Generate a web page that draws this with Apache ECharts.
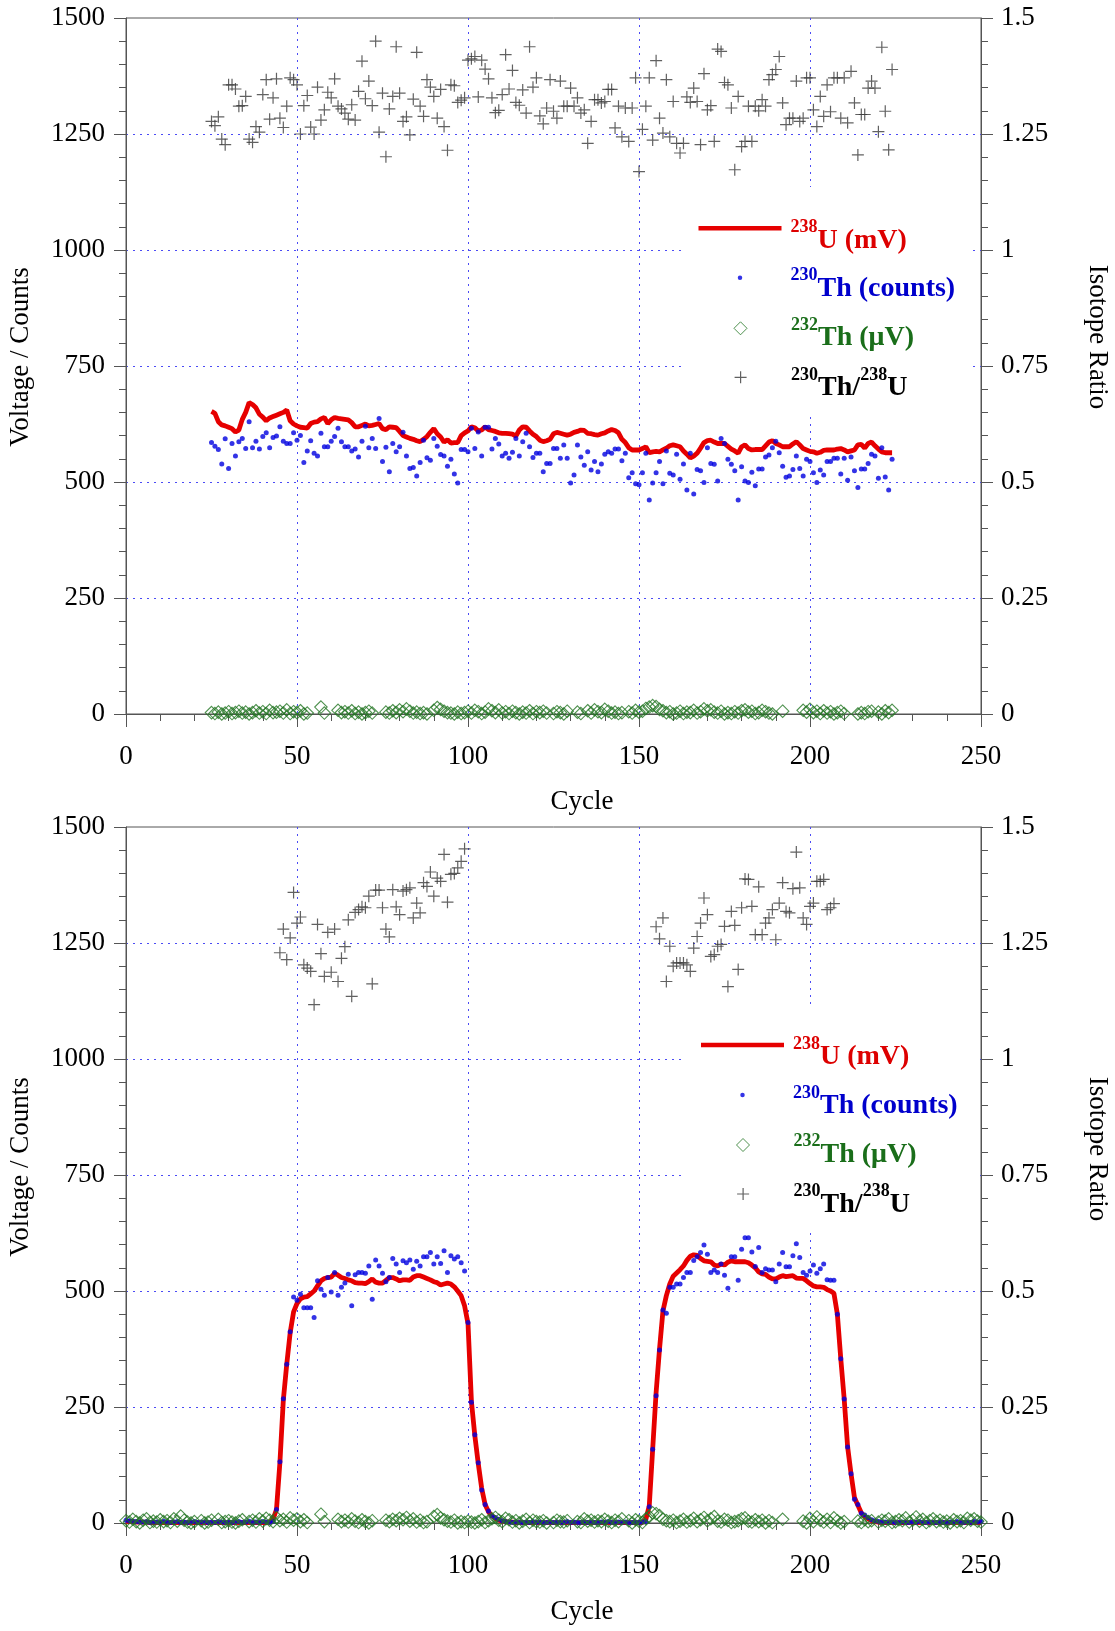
<!DOCTYPE html>
<html><head><meta charset="utf-8">
<script src="https://cdn.jsdelivr.net/npm/echarts@6/dist/echarts.min.js"></script>
<style>html,body{margin:0;padding:0;background:#fff}#c{width:1115px;height:1631px}</style>
</head><body><div id="c"></div>
<script>
// ---------------- DATA ----------------
const xTicks = [0, 50, 100, 150, 200, 250];
const leftTicks = [0, 250, 500, 750, 1000, 1250, 1500];
const rightTicks = [0, 0.25, 0.5, 0.75, 1, 1.25, 1.5];

// Top panel: cycles 25..224
const topStart = 25;
const topU = [652,648,630,623,621,618,615,608,612,635,650,671,667,660,646,640,632,638,641,644,
647,650,655,632,625,621,618,617,616,626,629,630,636,639,626,634,639,637,636,635,
634,628,619,619,622,625,621,622,624,626,615,613,619,618,617,609,600,597,594,592,
589,587,592,598,607,615,604,597,586,591,584,585,585,600,606,610,619,617,610,612,
619,613,611,609,606,605,605,604,603,599,612,619,618,610,603,598,590,587,589,592,
604,607,605,603,601,603,607,609,612,611,605,604,602,601,604,606,610,613,611,606,
592,585,574,569,569,569,572,576,563,565,566,565,569,573,578,580,578,576,567,560,
552,556,562,573,585,589,590,586,583,583,583,577,571,567,562,576,580,572,569,570,
570,570,578,586,589,583,580,576,576,576,582,587,580,572,569,566,565,562,564,568,
569,569,569,571,572,569,565,567,569,580,581,573,583,586,578,571,565,563,563,563];
const topTh230 = [585,577,570,539,593,529,583,556,587,594,572,630,574,588,571,598,606,574,596,599,
619,588,583,583,606,590,600,542,567,589,562,556,605,576,576,588,598,616,587,576,
576,567,571,554,588,620,574,594,572,637,544,575,522,583,565,576,607,556,529,531,
513,542,590,552,547,594,577,559,556,534,549,517,498,570,570,565,616,572,608,556,
618,618,571,594,582,556,562,551,564,594,556,587,605,576,553,562,562,522,540,540,572,
572,551,580,551,498,515,580,554,536,565,526,544,522,539,560,565,562,571,571,546,
562,509,520,496,494,520,562,461,498,520,544,496,567,519,515,560,506,539,483,562,
474,527,524,499,574,540,538,502,594,583,549,538,524,461,533,502,499,521,492,528,
528,554,558,574,588,563,534,510,513,527,556,529,513,549,544,520,499,526,515,544,
544,551,551,517,551,504,554,524,488,528,528,540,560,556,508,574,511,483,549];
// null = no 232Th reading shown at that cycle
const topTh232 = [3,1,4,0,2,5,1,3,6,2,4,0,3,7,2,5,1,8,3,4,6,2,9,1,5,3,7,0,2,null,
null,null,15,2,null,null,null,8,3,5,2,7,1,4,0,3,6,2,null,null,null,4,2,7,3,9,5,11,6,2,
4,1,3,0,null,8,14,10,6,3,2,0,4,1,3,6,2,8,5,1,4,11,7,3,9,2,5,1,6,3,
0,4,2,7,1,5,3,6,2,null,1,5,3,0,6,null,null,4,1,null,7,2,9,5,3,10,6,2,4,1,
3,null,5,2,8,4,6,12,15,18,16,10,7,3,5,0,2,6,1,4,3,8,2,5,11,7,9,4,2,6,
0,3,1,5,2,7,9,4,6,1,3,8,5,2,0,null,null,6,null,null,null,null,null,8,4,10,3,6,1,7,
2,5,0,3,6,1,null,null,null,0,3,1,5,6,null,4,0,7,3,8];
const topRatio = [1.277,1.268,1.287,1.239,1.227,1.356,1.356,1.347,1.310,1.311,
1.331,1.239,1.232,1.266,1.254,1.335,1.367,1.282,1.328,1.369,
1.284,1.264,1.310,1.371,1.367,1.356,1.250,1.311,1.333,1.265,
1.250,1.351,1.280,1.302,1.340,1.328,1.369,1.310,1.304,1.295,
1.282,1.313,1.280,1.342,1.407,1.326,1.364,1.311,1.450,1.254,
1.338,1.201,1.304,1.331,1.438,1.338,1.277,1.287,1.248,1.325,
1.426,1.310,1.288,1.367,1.351,1.331,1.284,1.346,1.266,1.215,
1.356,1.354,1.318,1.323,1.328,1.409,1.412,1.417,1.330,1.409,1.390,1.369,1.328,1.296,
1.301,1.335,1.421,1.347,1.387,1.318,1.312,1.345,1.295,1.438,1.351,1.371,1.289,
1.272,1.306,1.367,1.299,
1.284,1.364,1.310,1.310,1.349,1.310,1.328,1.295,
1.302,1.230,1.277,1.324,1.324,1.317,1.320,1.346,1.346,1.263,
1.310,1.244,1.306,1.234,1.306,1.371,1.169,1.260,1.310,1.371,
1.237,1.408,1.284,1.252,1.367,1.244,1.320,1.230,1.209,1.230,1.330,
1.318,1.349,1.320,1.227,1.380,1.302,1.311,1.234,1.433,1.428,
1.361,1.356,1.306,1.173,1.331,1.223,1.234,1.310,1.234,1.310,1.300,
1.324,1.310,1.367,1.378,1.389,1.417,1.317,1.270,1.284,1.284,
1.364,1.277,1.284,1.371,1.371,1.302,1.266,1.331,1.288,1.356,1.298,
1.371,1.371,1.284,1.371,1.274,1.385,1.317,1.205,1.292,1.292,
1.349,1.364,1.349,1.255,1.437,1.299,1.216,1.389];

// Bottom panel: cycles 0..250
const botStart = 0;
const botU = [4,3,3,2,2,2,2,1,1,1, 1,1,1,1,1,1,1,1,1,1, 1,1,1,1,1,1,1,1,1,1, 1,1,1,1,1,1,1,1,1,1, 1,1,2,
8,29,130,265,342,410,455,473,483,487,488,494,500,511,522,527,529,530,538,534,529,527,524,522,518,517,517,516,
520,526,519,517,517,523,529,529,526,522,524,524,523,530,533,533,530,527,524,520,518,513,515,517,515,509,500,490,
468,430,262,188,128,75,40,24,15,10,6,4,3,2,
2,1,1,1,1,1,1,1,1,1, 1,1,1,1,1,1,1,1,1,1, 1,1,1,1,1,1,1,1,1,1, 1,1,1,1,1,1,1,1,1,
8,37,159,281,375,457,490,515,532,539,546,554,566,575,578,577,570,565,564,563,556,554,558,556,562,565,563,563,563,
563,561,556,550,541,537,536,530,526,526,530,533,531,532,533,528,527,527,522,516,511,509,509,508,503,500,495,450,
354,267,164,106,55,38,22,14,9,5,3,2,
1,1,1,1,1,1,1,1,1,1, 1,1,1,1,1,1,1,1,1,1, 1,1,1,1,1,1,1,1,1,1];
const botTh230 = [6,5,4,3,2,2,3,1,2,2, 1,4,2,1,2,3,1,2,1,2, 3,1,2,2,1,2,1,3,2,1, 2,1,2,3,1,2,4,1,2,1, 3,2,1,4,
29,132,268,342,412,487,480,493,464,464,464,443,522,504,491,529,498,540,491,508,517,536,468,535,540,540,538,554,
482,567,554,538,520,529,570,558,540,565,561,567,547,564,554,574,574,583,558,574,559,587,540,576,569,574,561,543,
432,260,190,130,71,40,26,15,12,8,5,
3,2,1,2,1,1,2,1,3,1, 2,1,1,2,1,2,1,1,3,1, 2,1,1,2,1,2,1,1,2,1, 3,1,1,2,1,2,1,1,2,1, 2,3,
35,159,274,373,459,452,508,508,515,515,529,540,540,566,574,583,599,579,540,545,540,558,534,506,574,574,523,590,
615,615,584,553,594,540,548,545,545,520,558,583,552,552,576,602,572,540,534,543,556,538,548,558,524,523,523,450,
354,267,164,106,51,40,21,17,12,7,5,
3,2,2,1,2,1,1,2,1,1, 2,1,3,1,1,2,1,1,2,1, 1,2,1,3,1,1,2,1,4,2, 3];
const botTh232 = [5,2,8,3,0,6,9,1,4,2, 7,3,5,1,9,4,15,6,2,0, 3,null,5,0,2,6,null,8,1,3, 5,2,0,4,7,null,3,6,2,9,
4,10,6,3,12,5,8,2,11,6, 9,3,7,1,null,null,null,19,3,null, null,null,8,3,6,2,9,4,1,7, 3,0,5,null,null,null,6,3,8,5,
10,7,12,4,9,2,6,1,3,null, 14,18,11,7,4,2,6,0,3,1, 4,2,0,3,7,1,5,9,12,6, 3,10,7,2,5,0,4,8,1,6,
3,2,5,0,null,1,6,3,2,5, null,null,3,1,9,4,6,2,5,3, 8,4,1,6,3,9,null,5,0,7, 4,1,9,14,22,20,16,8,5,3,
6,1,4,8,2,5,10,3,7,12, 5,9,14,4,2,8,6,1,3,5, 9,11,4,2,7,3,6,0,5,1, null,null,8,null,null,null,null,null,4,0,
10,3,13,6,2,8,1,11,5,0, 3,null,null,null,4,1,7,3,5,null, 2,6,4,9,1,3,7,5,11,2, 6,13,4,8,1,5,9,3,6,2,
4,0,7,3,5,1,10,6,9,4, 2];
const botRatioAStart = 45;
const botRatioA = [1.229,1.280,1.214,1.261,1.359,1.293,1.306,1.203,1.196,1.189,
1.117,1.290,1.227,1.178,1.273,1.187,1.280,1.167,1.217,1.242,
1.300,1.135,1.316,1.322,1.328,1.326,1.351,1.162,1.364,1.364,
1.326,1.280,1.263,1.365,1.328,1.311,1.362,1.365,1.369,1.304,
1.336,1.315,1.380,1.372,1.403,1.351,1.390,1.383,1.441,1.338,
1.398,1.400,1.412,1.426,1.453];
const botRatioBStart = 155;
const botRatioB = [1.285,1.259,1.304,1.167,1.243,1.200,1.207,1.207,1.207,1.203,
1.189,1.239,1.264,1.293,1.347,1.311,1.221,1.225,1.243,1.247,
1.286,1.156,1.318,1.288,1.193,1.326,1.388,1.387,1.329,1.268,
1.371,1.268,1.293,1.304,1.322,1.257,1.336,1.380,1.318,1.315,
1.367,1.446,1.369,1.304,1.290,1.329,1.336,1.383,1.383,1.387,
1.322,1.326,1.335];

// ---------------- STYLE ----------------
const FONT = '"Liberation Serif", "Times New Roman", serif';
const AX = '#555555';
const GRIDC = '#4b4bf5';
const RED = '#e60000', BLUE = '#0000e0', GREEN = '#237523', GRAY = '#3a3a3a';
const PLUS = 'path://M0,5H10M5,0V10';
const DIAMOND_PATH = 'path://M5,0L10,5L5,10L0,5Z';

function pairs(start, arr) { return arr.map((v, i) => [start + i, v]); }
const numFmt = v => String(v);

function xAxisCfg(gi) {
  return {
    gridIndex: gi, type: 'value', min: xTicks[0], max: xTicks[xTicks.length - 1], interval: xTicks[1] - xTicks[0],
    axisLine: { show: true, onZero: false, lineStyle: { color: AX, width: 1 } },
    axisTick: { show: true, inside: false, length: 13, lineStyle: { color: AX } },
    minorTick: { show: true, splitNumber: 5, length: 7, lineStyle: { color: AX } },
    axisLabel: { fontFamily: FONT, fontSize: 27, color: '#000', margin: 29, formatter: numFmt },
    splitLine: { show: true, showMinLine: false, showMaxLine: false, lineStyle: { color: GRIDC, type: [2, 5], width: 1 } }
  };
}
function yLeftCfg(gi) {
  return {
    gridIndex: gi, type: 'value', position: 'left', min: leftTicks[0], max: leftTicks[leftTicks.length - 1], interval: leftTicks[1] - leftTicks[0],
    axisLine: { show: true, onZero: false, lineStyle: { color: AX, width: 1 } },
    axisTick: { show: true, inside: false, length: 12, lineStyle: { color: AX } },
    minorTick: { show: true, splitNumber: 5, length: 7, lineStyle: { color: AX } },
    axisLabel: { fontFamily: FONT, fontSize: 27, color: '#000', margin: 21, formatter: numFmt },
    splitLine: { show: true, showMinLine: false, showMaxLine: false, lineStyle: { color: GRIDC, type: [2, 5], width: 1 } }
  };
}
function yRightCfg(gi) {
  return {
    gridIndex: gi, type: 'value', position: 'right', min: rightTicks[0], max: rightTicks[rightTicks.length - 1], interval: rightTicks[1] - rightTicks[0],
    axisLine: { show: true, onZero: false, lineStyle: { color: AX, width: 1 } },
    axisTick: { show: true, inside: false, length: 12, lineStyle: { color: AX } },
    minorTick: { show: true, splitNumber: 5, length: 7, lineStyle: { color: AX } },
    axisLabel: { fontFamily: FONT, fontSize: 27, color: '#000', margin: 20, formatter: numFmt },
    splitLine: { show: false }
  };
}
// d: how far (px) the main text sits below the legend icon centre
function richFor(color, d) {
  const L = 28 + 2 * d;
  const p = Math.max(0, L - 35.5);
  return {
    L: L,
    rich: {
      f: { fontFamily: FONT, fontSize: 18, fontWeight: 'bold', color: color, verticalAlign: 'top', padding: [p, 0, 0, 4], lineHeight: L },
      s: { fontFamily: FONT, fontSize: 18, fontWeight: 'bold', color: color, verticalAlign: 'top', padding: [p, 0, 0, 0], lineHeight: L },
      m: { fontFamily: FONT, fontSize: 28, fontWeight: 'bold', color: color, verticalAlign: 'bottom', lineHeight: L }
    }
  };
}
function leg(name, cx, cy, iw, ih, icon, itemStyle, text, color, d) {
  const r = richFor(color, d);
  return {
    show: true, left: cx - iw / 2, top: cy - r.L / 2, padding: 0, itemWidth: 83, itemHeight: ih, icon: icon,
    itemStyle: itemStyle, selectedMode: false, data: [name],
    formatter: () => text,
    textStyle: { color: color, rich: r.rich }
  };
}
function legendsAt(cx, cys) {
  return [
    leg('U238', cx, cys[0], 83, 4.5, 'rect', { color: RED, borderWidth: 0 }, '{f|238}{m|U (mV)}', '#dd0000', 12),
    leg('Th230', cx, cys[1], 4.5, 4.5, 'circle', { color: BLUE, borderWidth: 0 }, '{f|230}{m|Th (counts)}', '#0000cc', 10.6),
    leg('Th232', cx, cys[2], 13, 13, DIAMOND_PATH, { color: 'rgba(0,0,0,0)', borderColor: GREEN, borderWidth: 1 }, '{f|232}{m|Th (μV)}', '#1a6e1a', 9.3),
    leg('Ratio', cx, cys[3], 12, 12, PLUS, { color: 'rgba(0,0,0,0)', borderColor: GRAY, borderWidth: 1.2 }, '{f|230}{m|Th/}{s|238}{m|U}', '#000000', 10.3)
  ];
}
function seriesFor(gi, uStart, u, thStart, th, t2Start, t2, ratioParts) {
  const xi = gi, yl = gi * 2, yr = gi * 2 + 1;
  const list = [
    { name: 'U238', type: 'line', xAxisIndex: xi, yAxisIndex: yl, data: pairs(uStart, u), symbol: 'none', showSymbol: false,
      lineStyle: { color: RED, width: 4.8 }, itemStyle: { color: RED }, z: 2, silent: true },
    { name: 'Th230', type: 'scatter', xAxisIndex: xi, yAxisIndex: yl, data: pairs(thStart, th), symbol: 'circle', symbolSize: 5,
      itemStyle: { color: BLUE }, z: 3, silent: true },
    { name: 'Th232', type: 'scatter', xAxisIndex: xi, yAxisIndex: yl, data: pairs(t2Start, t2).filter(d => d[1] !== null), symbol: 'diamond', symbolSize: 12.5,
      itemStyle: { color: 'rgba(0,0,0,0)', borderColor: GREEN, borderWidth: 1.1 }, z: 3, silent: true }
  ];
  const rData = [];
  ratioParts.forEach(p => { pairs(p[0], p[1]).forEach(d => rData.push(d)); });
  list.push({ name: 'Ratio', type: 'scatter', xAxisIndex: xi, yAxisIndex: yr, data: rData, symbol: PLUS, symbolSize: 12,
    itemStyle: { color: 'rgba(0,0,0,0)', borderColor: GRAY, borderWidth: 1.2 }, z: 3, silent: true });
  return list;
}
function titleText(x, y, text, rot) {
  return { type: 'text', x: x, y: y, rotation: rot, z: 5,
    style: { text: text, font: '27px ' + FONT, fill: '#000', align: 'center', verticalAlign: 'middle' } };
}

const chart = echarts.init(document.getElementById('c'), null, { renderer: 'canvas', width: 1115, height: 1631 });
chart.setOption({
  animation: false,
  backgroundColor: '#ffffff',
  grid: [
    { left: 126, width: 855, top: 18, height: 696, show: true, borderColor: AX, borderWidth: 1, containLabel: false },
    { left: 126, width: 855, top: 827, height: 696, show: true, borderColor: AX, borderWidth: 1, containLabel: false }
  ],
  xAxis: [xAxisCfg(0), xAxisCfg(1)],
  yAxis: [yLeftCfg(0), yRightCfg(0), yLeftCfg(1), yRightCfg(1)],
  legend: legendsAt(740, [228.3, 277.7, 328.3, 377.3]).concat(legendsAt(742.5, [1045, 1095, 1145, 1194])),
  graphic: [
    { type: 'rect', z: 1, shape: { x: 682, y: 187, width: 291, height: 226 }, style: { fill: '#ffffff' } },
    { type: 'rect', z: 1, shape: { x: 682, y: 1007, width: 293, height: 223 }, style: { fill: '#ffffff' } },
    titleText(21, 357, 'Voltage / Counts', Math.PI / 2),
    titleText(1097, 337, 'Isotope Ratio', -Math.PI / 2),
    titleText(582, 802, 'Cycle', 0),
    titleText(21, 1167, 'Voltage / Counts', Math.PI / 2),
    titleText(1097, 1149, 'Isotope Ratio', -Math.PI / 2),
    titleText(582, 1612, 'Cycle', 0)
  ],
  series: seriesFor(0, topStart, topU, topStart, topTh230, topStart, topTh232, [[topStart, topRatio]])
    .concat(seriesFor(1, botStart, botU, botStart, botTh230, botStart, botTh232, [[botRatioAStart, botRatioA], [botRatioBStart, botRatioB]]))
});
</script>
</body></html>
